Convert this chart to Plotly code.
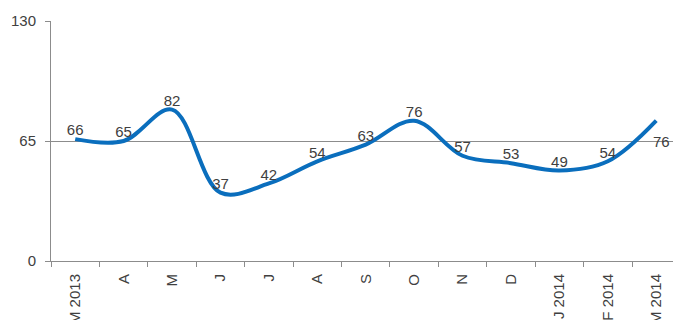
import plotly.graph_objects as go

months = ["M 2013", "A", "M", "J", "J", "A", "S", "O", "N", "D", "J 2014", "F 2014", "M 2014"]
values = [66, 65, 82, 37, 42, 54, 63, 76, 57, 53, 49, 54, 76]
y_ticks = [0, 65, 130]

x_pos = list(range(len(months)))
# the final point's label sits below-right of the line end, placed separately
labels = [str(v) for v in values[:-1]] + [""]

font_family = "Arial, Liberation Sans, sans-serif"
text_color = "#404040"
axis_color = "#8c8c8c"
font_size = 15

fig = go.Figure(
    go.Scatter(
        x=x_pos,
        y=values,
        mode="lines+text",
        line=dict(color="#0A6EBD", width=4, shape="spline", smoothing=1),
        text=labels,
        textposition="top center",
        textfont=dict(family=font_family, size=font_size, color=text_color),
        cliponaxis=False,
        hoverinfo="skip",
    )
)

fig.add_annotation(
    x=x_pos[-1],
    y=values[-1],
    text=str(values[-1]),
    showarrow=False,
    xanchor="center",
    yanchor="middle",
    xshift=5,
    yshift=-21,
    font=dict(family=font_family, size=font_size, color=text_color),
)

fig.update_layout(
    width=673,
    height=320,
    margin=dict(l=51, r=0, t=21, b=59, autoexpand=False),
    paper_bgcolor="white",
    plot_bgcolor="white",
    showlegend=False,
    font=dict(family=font_family, size=font_size, color=text_color),
)

fig.update_xaxes(
    range=[-0.5, 12.346],
    automargin=False,
    tickmode="array",
    tickvals=x_pos,
    ticktext=months,
    tickangle=-90,
    ticks="",
    ticklabelstandoff=6,
    showgrid=False,
    zeroline=False,
    showline=True,
    linecolor=axis_color,
    linewidth=1,
    tickfont=dict(family=font_family, size=font_size, color=text_color),
    minor=dict(tick0=0.5, dtick=1, ticks="outside", ticklen=5, tickcolor=axis_color, showgrid=False),
)

fig.update_yaxes(
    range=[0, 130],
    automargin=False,
    tickmode="array",
    tickvals=y_ticks,
    ticks="outside",
    ticklen=5,
    tickcolor=axis_color,
    ticklabelstandoff=6,
    showgrid=True,
    gridcolor=axis_color,
    gridwidth=1,
    zeroline=False,
    showline=True,
    linecolor=axis_color,
    linewidth=1,
    tickfont=dict(family=font_family, size=font_size, color=text_color),
)

fig.write_html("out.html")
